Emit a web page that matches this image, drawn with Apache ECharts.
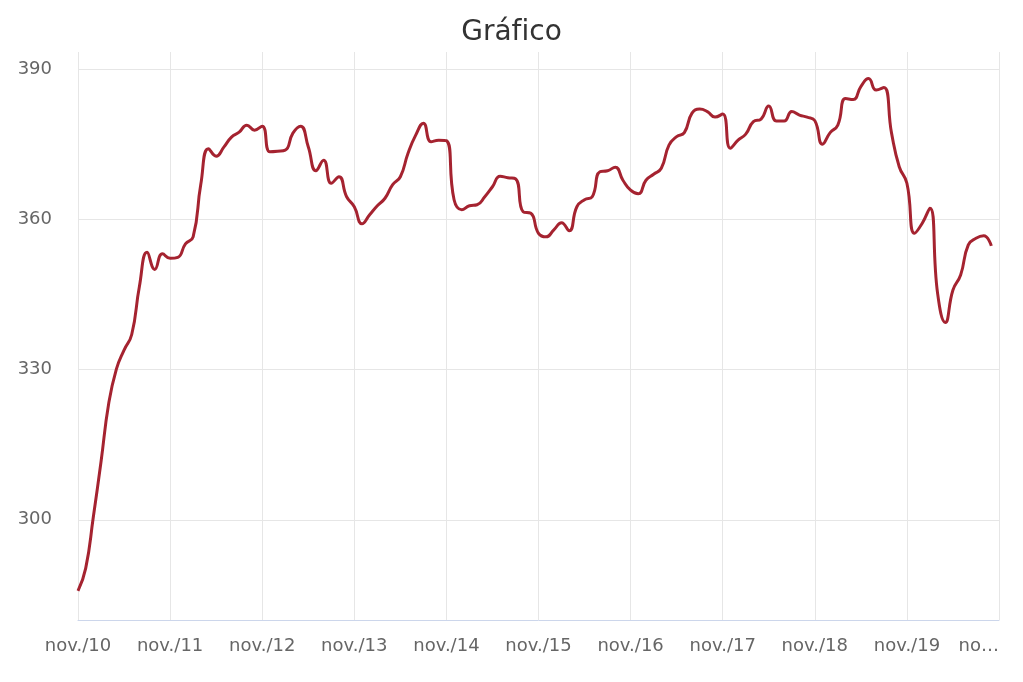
<!DOCTYPE html>
<html>
<head>
<meta charset="utf-8">
<script src="https://cdn.jsdelivr.net/npm/echarts@6/dist/echarts.min.js"></script>
<style>
  html, body { margin: 0; padding: 0; background: #ffffff; }
  #chart { width: 1023px; height: 682px; }
</style>
</head>
<body>
<div id="chart"></div>
<script>
// Monthly categories: nov./10 .. nov./20
const monthNames = ['nov.', 'dez.', 'jan.', 'fev.', 'mar.', 'abr.', 'mai.', 'jun.', 'jul.', 'ago.', 'set.', 'out.'];
const categories = [];
for (let i = 0; i <= 120; i++) {
  const m = i % 12;
  const year = 10 + Math.floor((i + 10) / 12);
  categories.push(monthNames[m] + '/' + String(year).padStart(2, '0'));
}

// Series values (nov./10 .. out./20)
const values2010_2012 = [
  285.8, 290.3, 300.6, 311.6, 323.2, 330.1, 333.9, 337.0, 346.6, 353.4, 350.0, 353.1,
  352.2, 352.4, 355.1, 356.5, 367.0, 374.1, 372.6, 374.4, 376.4, 377.4, 378.8, 377.8
];
const values2012_2014 = [
  378.6, 373.5, 373.6, 373.8, 377.2, 378.6, 374.5, 369.7, 371.8, 367.2, 368.5, 364.5,
  362.5, 359.1, 360.9, 362.7, 364.2, 366.9, 368.5, 373.2, 376.8, 379.2, 375.5, 375.8
];
const values2014_2016 = [
  375.7, 363.9, 361.9, 362.7, 362.9, 364.5, 366.5, 368.6, 368.3, 368.1, 361.5, 361.2,
  357.2, 356.5, 357.9, 359.3, 357.7, 362.5, 363.9, 364.5, 369.5, 369.7, 370.4, 367.8
];
const values2016_2018 = [
  365.8, 365.1, 367.8, 369.0, 370.2, 374.8, 376.5, 377.3, 381.2, 382.0, 381.5, 380.4,
  381.0, 374.2, 375.8, 377.0, 379.5, 380.0, 382.6, 379.6, 379.6, 381.5, 380.8, 380.4
];
const values2018_2020 = [
  379.7, 375.0, 377.3, 378.8, 384.1, 383.9, 386.5, 388.1, 385.8, 386.3, 377.2, 370.5,
  367.2, 357.2, 359.2, 362.2, 345.2, 339.4, 345.9, 348.9, 354.9, 356.2, 356.7, 354.7
];
const seriesValues = [].concat(values2010_2012, values2012_2014, values2014_2016, values2016_2018, values2018_2020);

const yTickLabels = [300, 330, 360, 390];
const titleText = 'Gráf\u200Cico';

const chart = echarts.init(document.getElementById('chart'), null, { renderer: 'canvas' });
chart.setOption({
  animation: false,
  backgroundColor: '#ffffff',
  title: {
    text: titleText,
    left: 'center',
    top: 14,
    textStyle: { fontFamily: 'DejaVu Sans', fontSize: 28, fontWeight: 'normal', color: '#333333' }
  },
  grid: { left: 78, right: 24, top: 52, bottom: 62, containLabel: false },
  xAxis: {
    type: 'category',
    data: categories,
    boundaryGap: false,
    axisLine: { show: true, lineStyle: { color: '#ccd6eb', width: 1 } },
    axisTick: { show: false },
    axisLabel: {
      interval: 11,
      margin: 17,
      fontFamily: 'DejaVu Sans',
      fontSize: 18,
      color: '#666666',
      alignMaxLabel: 'right',
      formatter: function (val, idx) {
        if (idx === categories.length - 1) return val.slice(0, 2) + '…';
        return val;
      }
    },
    splitLine: { show: true, interval: 11, lineStyle: { color: '#e6e6e6', width: 1 } }
  },
  yAxis: {
    type: 'value',
    min: 280,
    max: 393.4,
    interval: 10,
    axisLine: { show: false },
    axisTick: { show: false },
    axisLabel: {
      margin: 26,
      fontFamily: 'DejaVu Sans',
      fontSize: 18,
      color: '#666666',
      formatter: function (v) {
        return yTickLabels.indexOf(Math.round(v * 10) / 10) >= 0 ? String(v) : '';
      }
    },
    splitLine: { show: true, lineStyle: { color: ['rgba(0,0,0,0)', 'rgba(0,0,0,0)', '#e6e6e6'], width: 1 } }
  },
  series: [{
    type: 'line',
    data: seriesValues,
    smooth: 0.5,
    showSymbol: false,
    symbol: 'none',
    lineStyle: { color: '#a52330', width: 3 },
    itemStyle: { color: '#a52330' }
  }]
});
</script>
</body>
</html>
